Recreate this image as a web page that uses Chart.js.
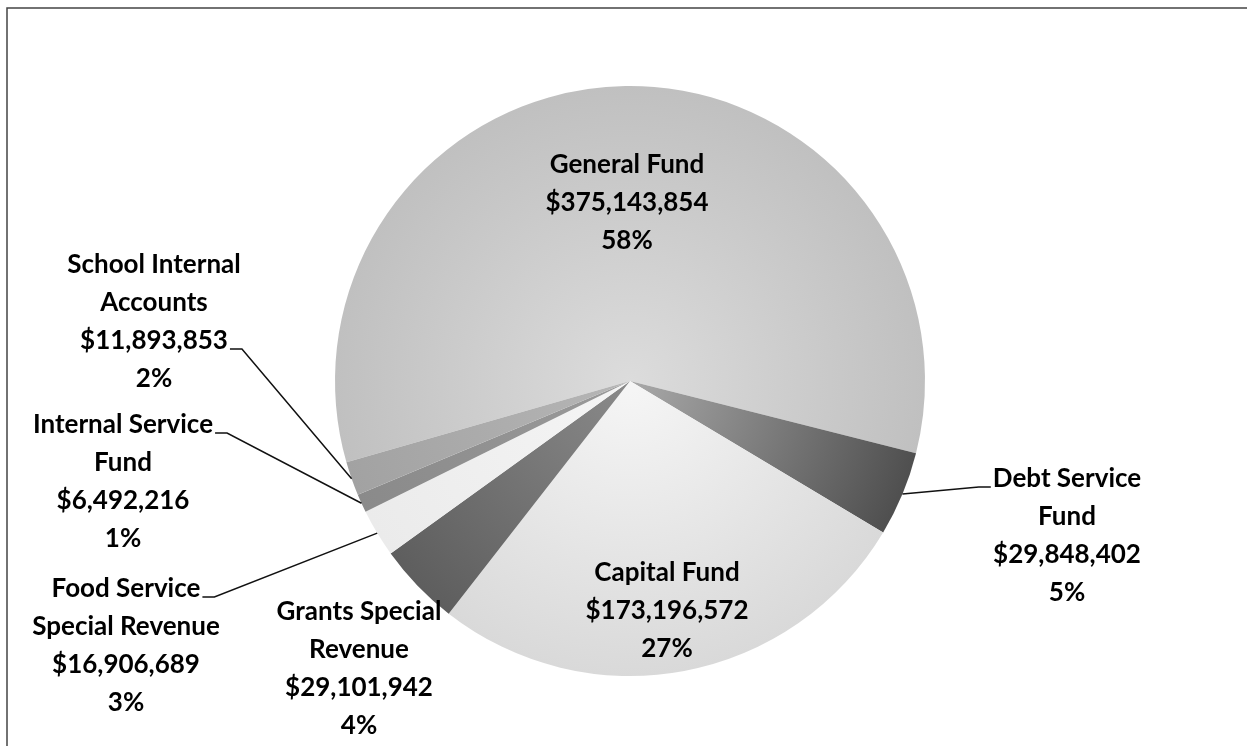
<!DOCTYPE html>
<html>
<head>
<meta charset="utf-8">
<title>Funds</title>
<script src="https://cdn.jsdelivr.net/npm/chart.js@4.4.1/dist/chart.umd.min.js"></script>
<style>
  html, body { margin: 0; padding: 0; background: #fff; }
  canvas { display: block; }
</style>
</head>
<body>
<canvas id="fundsChart" width="1247" height="746"></canvas>
<script>
const fundNames = ["General Fund", "Debt Service Fund", "Capital Fund", "Grants Special Revenue",
  "Food Service Special Revenue", "Internal Service Fund", "School Internal Accounts"];
const nameLines = [["General Fund"], ["Debt Service", "Fund"], ["Capital Fund"], ["Grants Special", "Revenue"],
  ["Food Service", "Special Revenue"], ["Internal Service", "Fund"], ["School Internal", "Accounts"]];
const fundAmounts = [375143854, 29848402, 173196572, 29101942, 16906689, 6492216, 11893853];
const percentLabels = ["58%", "5%", "27%", "4%", "3%", "1%", "2%"];

// slice shading, centre -> rim
const innerShades = ["#dcdcdc", "#a9a9a9", "#f6f6f6", "#8a8a8a", "#f5f5f5", "#9a9a9a", "#b6b6b6"];
const outerShades = ["#c0c0c0", "#4f4f4f", "#d9d9d9", "#5e5e5e", "#ebebeb", "#8a8a8a", "#a2a2a2"];

// label blocks: centre x, middle of first line, which line carries the leader
const labelSpots = [
  { x: 627, y: 165 },
  { x: 1067, y: 479, leaderLine: 0, side: "left" },
  { x: 667, y: 573 },
  { x: 359, y: 612 },
  { x: 126, y: 589, leaderLine: 0, side: "right" },
  { x: 123, y: 425, leaderLine: 0, side: "right" },
  { x: 154, y: 265, leaderLine: 2, side: "right" }
];
const lineGap = 38;

const shade = function(context) {
  const chart = context.chart;
  const area = chart.chartArea;
  const i = context.dataIndex;
  if (!area) return outerShades[i];
  const cx = (area.left + area.right) / 2;
  const cy = (area.top + area.bottom) / 2;
  const r = Math.min(area.width, area.height) / 2;
  const g = chart.ctx.createRadialGradient(cx, cy, 0, cx, cy, r);
  g.addColorStop(0, innerShades[i]);
  g.addColorStop(1, outerShades[i]);
  return g;
};

const framePlugin = {
  id: "frame",
  beforeDraw(chart) {
    const ctx = chart.ctx;
    ctx.save();
    ctx.fillStyle = "#fff";
    ctx.fillRect(0, 0, chart.width, chart.height);
    ctx.strokeStyle = "#444";
    ctx.lineWidth = 1.5;
    ctx.beginPath();
    ctx.moveTo(7, chart.height);
    ctx.lineTo(7, 8);
    ctx.lineTo(chart.width, 8);
    ctx.stroke();
    ctx.restore();
  }
};

const labelPlugin = {
  id: "fundLabels",
  afterDatasetsDraw(chart) {
    const ctx = chart.ctx;
    const arcs = chart.getDatasetMeta(0).data;
    ctx.save();
    ctx.font = "bold 26px Lato";
    ctx.fillStyle = "#000";
    ctx.strokeStyle = "#111";
    ctx.lineWidth = 1.5;
    ctx.textAlign = "center";
    ctx.textBaseline = "middle";
    fundAmounts.forEach(function(amount, i) {
      const spot = labelSpots[i];
      const lines = nameLines[i].concat(["$" + amount.toLocaleString("en-US"), percentLabels[i]]);
      lines.forEach(function(line, k) {
        ctx.fillText(line, spot.x, spot.y + k * lineGap);
      });
      if (spot.leaderLine === undefined) return;
      const arc = arcs[i];
      const mid = (arc.startAngle + arc.endAngle) / 2;
      const tipX = arc.x + Math.cos(mid) * arc.outerRadius;
      const tipY = arc.y + Math.sin(mid) * arc.outerRadius;
      const half = ctx.measureText(lines[spot.leaderLine]).width / 2;
      const ly = spot.y + spot.leaderLine * lineGap + 8;
      const dir = spot.side === "left" ? -1 : 1;
      const startX = spot.x + dir * (half + 2);
      ctx.beginPath();
      ctx.moveTo(startX, ly);
      ctx.lineTo(startX + dir * 12, ly);
      ctx.lineTo(tipX, tipY);
      ctx.stroke();
    });
    ctx.restore();
  }
};

const context = document.getElementById("fundsChart").getContext("2d");
const chart = new Chart(context, {
  type: "pie",
  data: {
    labels: fundNames,
    datasets: [{
      label: "funds",
      data: fundAmounts,
      backgroundColor: shade,
      borderWidth: 0
    }]
  },
  options: {
    responsive: false,
    animation: false,
    devicePixelRatio: 1,
    rotation: -106,
    layout: { padding: { top: 86, bottom: 70, left: 335, right: 322 } },
    plugins: {
      legend: { display: false },
      tooltip: { enabled: false }
    }
  },
  plugins: [framePlugin, labelPlugin]
});
</script>
</body>
</html>
